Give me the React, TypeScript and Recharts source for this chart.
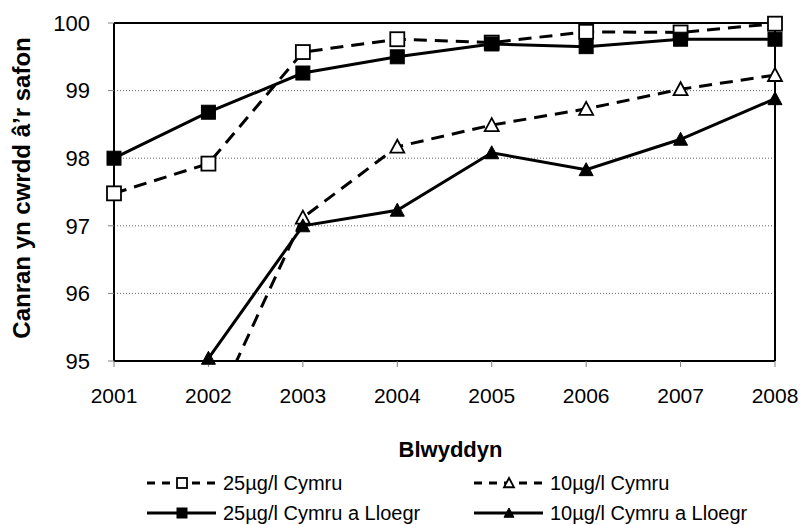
import React from "react";
import {
  LineChart,
  Line,
  XAxis,
  YAxis,
  CartesianGrid,
  Legend,
  ReferenceLine,
} from "recharts";

const years = ["2001", "2002", "2003", "2004", "2005", "2006", "2007", "2008"];
const cymru25 = [97.48, 97.92, 99.57, 99.76, 99.71, 99.87, 99.86, 99.99];
const cymruLloegr25 = [98.0, 98.68, 99.26, 99.5, 99.69, 99.65, 99.76, 99.76];
const cymru10 = [null, 94.1, 97.12, 98.17, 98.49, 98.73, 99.02, 99.23];
const cymruLloegr10 = [null, 95.04, 97.0, 97.23, 98.08, 97.83, 98.28, 98.88];
const yTicks = [95, 96, 97, 98, 99, 100];

const FONT = "'Liberation Sans', Arial, sans-serif";
const DASH = "13 8";

const data = years.map((year, i) => ({
  year,
  cymru25: cymru25[i],
  cymru10: cymru10[i],
  // markers only for points that sit inside the visible range
  cymru10Markers: cymru10[i] !== null && (cymru10[i] as number) >= 95 ? cymru10[i] : null,
  cymruLloegr25: cymruLloegr25[i],
  cymruLloegr10: cymruLloegr10[i],
}));

const legendItems = [
  { name: "25µg/l Cymru", dashed: true, shape: "square", filled: false },
  { name: "10µg/l Cymru", dashed: true, shape: "triangle", filled: false },
  { name: "25µg/l Cymru a Lloegr", dashed: false, shape: "square", filled: true },
  { name: "10µg/l Cymru a Lloegr", dashed: false, shape: "triangle", filled: true },
];

function markerShape(shape: string, filled: boolean, cx: number, cy: number, size: number, key?: any) {
  const fill = filled ? "#000" : "#fff";
  const sw = filled ? 1 : 1.8;
  const h = size / 2;
  if (shape === "square") {
    return (
      <rect key={key} x={cx - h} y={cy - h} width={size} height={size} fill={fill} stroke="#000" strokeWidth={sw} />
    );
  }
  const pts = `${cx},${cy - h} ${cx - h},${cy + h * 0.85} ${cx + h},${cy + h * 0.85}`;
  return <polygon key={key} points={pts} fill={fill} stroke="#000" strokeWidth={sw} strokeLinejoin="miter" />;
}

const makeDot = (shape: string, filled: boolean) => (p: any) => {
  if (p.cx == null || p.cy == null || p.value == null) return <g key={p.index} />;
  return markerShape(shape, filled, p.cx, p.cy, 14, p.index);
};

const renderLegend = () => (
  <div style={{ position: "relative", width: 801, height: 57, fontFamily: FONT, fontSize: 20, color: "#000" }}>
    {legendItems.map((item, i) => {
      const col = i % 2;
      const row = Math.floor(i / 2);
      return (
        <div
          key={item.name}
          style={{
            position: "absolute",
            left: col === 0 ? 147 : 474,
            top: row * 30,
            height: 30,
            display: "flex",
            alignItems: "center",
            whiteSpace: "nowrap",
          }}
        >
          <svg width={70} height={20} style={{ display: "block" }}>
            <line
              x1={0}
              y1={10}
              x2={69}
              y2={10}
              stroke="#000"
              strokeWidth={3}
              strokeDasharray={item.dashed ? "8 7" : undefined}
            />
            {markerShape(item.shape, item.filled, 35, 10, 10)}
          </svg>
          <span style={{ marginLeft: 6 }}>{item.name}</span>
        </div>
      );
    })}
  </div>
);

export default function App() {
  return (
    <div style={{ position: "absolute", left: 0, top: 0, width: 801, height: 525, background: "#fff" }}>
      <LineChart
        width={801}
        height={525}
        data={data}
        margin={{ top: 23, right: 26, left: 0, bottom: 0 }}
        style={{ fontFamily: FONT }}
      >
        <CartesianGrid vertical={false} stroke="#666" strokeDasharray="1 2" strokeWidth={1} />
        <XAxis
          dataKey="year"
          height={107}
          tickSize={6}
          tickMargin={21}
          tick={{ fill: "#000", fontSize: 21, fontFamily: FONT }}
          tickLine={{ stroke: "#808080" }}
          axisLine={{ stroke: "#000", strokeWidth: 2 }}
          label={{
            content: ({ viewBox }: any) => (
              <text
                x={viewBox.x + viewBox.width / 2 + 6}
                y={viewBox.y + 96}
                textAnchor="middle"
                fontFamily={FONT}
                fontSize={22}
                fontWeight="bold"
                fill="#000"
              >
                Blwyddyn
              </text>
            ),
          }}
        />
        <YAxis
          width={114}
          domain={[95, 100]}
          ticks={yTicks}
          interval={0}
          tickSize={6}
          tickMargin={18}
          tick={{ fill: "#000", fontSize: 22, fontFamily: FONT }}
          tickLine={{ stroke: "#808080" }}
          axisLine={{ stroke: "#000", strokeWidth: 2 }}
          label={{
            content: () => (
              <text
                x={30}
                y={188}
                transform="rotate(-90, 30, 188)"
                textAnchor="middle"
                fontFamily={FONT}
                fontSize={24}
                fontWeight="bold"
                fill="#000"
              >
                Canran yn cwrdd â’r safon
              </text>
            ),
          }}
        />
        <YAxis yAxisId="clip" hide domain={[95, 100]} allowDataOverflow />
        <ReferenceLine y={100} stroke="#000" strokeWidth={2} />
        <ReferenceLine x="2008" stroke="#000" strokeWidth={2} />
        <Legend verticalAlign="bottom" content={renderLegend} wrapperStyle={{ left: 0, width: 801, bottom: 0 }} />
        <Line
          dataKey="cymru25"
          name="25µg/l Cymru"
          stroke="#000"
          strokeWidth={3}
          strokeDasharray={DASH}
          dot={makeDot("square", false)}
          isAnimationActive={false}
        />
        <Line
          dataKey="cymru10"
          yAxisId="clip"
          name="10µg/l Cymru"
          stroke="#000"
          strokeWidth={3}
          strokeDasharray={DASH}
          dot={false}
          isAnimationActive={false}
        />
        <Line
          dataKey="cymru10Markers"
          name="10µg/l Cymru markers"
          stroke="none"
          legendType="none"
          dot={makeDot("triangle", false)}
          isAnimationActive={false}
        />
        <Line
          dataKey="cymruLloegr25"
          name="25µg/l Cymru a Lloegr"
          stroke="#000"
          strokeWidth={3}
          dot={makeDot("square", true)}
          isAnimationActive={false}
        />
        <Line
          dataKey="cymruLloegr10"
          name="10µg/l Cymru a Lloegr"
          stroke="#000"
          strokeWidth={3}
          dot={makeDot("triangle", true)}
          isAnimationActive={false}
        />
      </LineChart>
    </div>
  );
}
